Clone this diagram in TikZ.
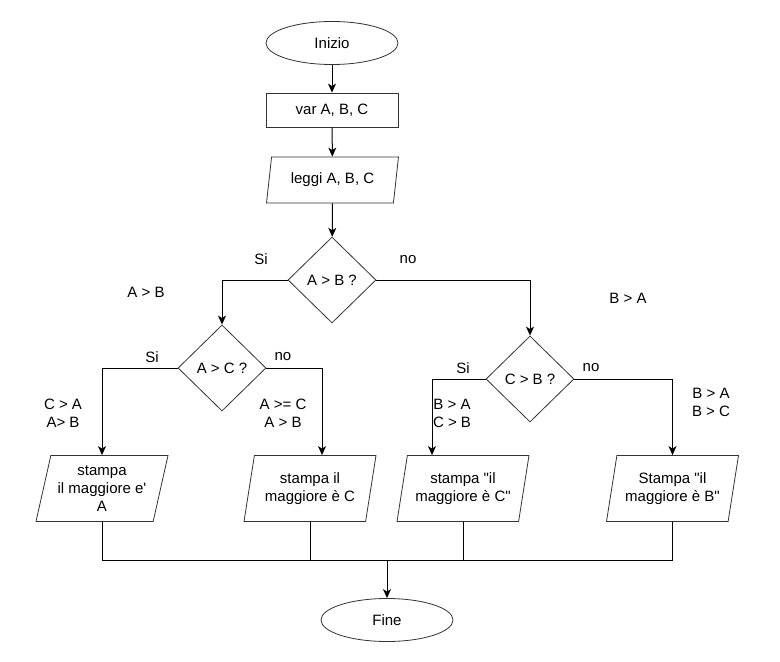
\documentclass[tikz,border=0pt]{standalone}
\usepackage{fontspec}
\newfontfamily\flowfont{Liberation Sans}
\usetikzlibrary{arrows.meta,shapes.geometric}
\definecolor{edge}{HTML}{333333}
\tikzset{
  term/.style={draw=edge,line width=.8pt,ellipse,minimum width=132pt,minimum height=43pt,inner sep=0pt},
  proc/.style={draw=edge,line width=.8pt,rectangle,minimum width=132pt,minimum height=34pt,inner sep=0pt},
  io/.style={draw=edge,line width=.8pt,trapezium,trapezium left angle=72,trapezium right angle=108,
    trapezium stretches body,minimum width=132pt,minimum height=66pt,inner sep=0pt,align=center},
  dec/.style={draw=edge,line width=.8pt,diamond,minimum width=88pt,minimum height=86pt,inner sep=0pt},
  lbl/.style={align=center,inner sep=0pt},
  arr/.style={draw=black,line width=1pt,-{Stealth[length=9pt,width=8pt,inset=2.5pt]}},
  wire/.style={draw=black,line width=1pt}
}
\begin{document}
\begin{tikzpicture}[x=1pt,y=-1pt,font=\flowfont\fontsize{15}{18}\selectfont]
  \useasboundingbox (0,0) rectangle (780,662);
  % main column
  \node[term] (inizio) at (332,43) {Inizio};
  \node[proc] (var) at (332,110) {var A, B, C};
  \node[io,minimum height=46pt,trapezium left angle=70,trapezium right angle=110] (leggi) at (332.5,180) {leggi A, B, C};
  \node[dec] (ab) at (332,280) {A > B ?};
  \node[dec] (ac) at (222,368) {A > C ?};
  \node[dec] (cb) at (530,379) {C > B ?};
  % outputs
  \node[io] (outA) at (102,488.5) {stampa\\il maggiore e'\\A};
  \node[io] (outC1) at (310,488.5) {stampa il\\maggiore è C};
  \node[io] (outC2) at (463,488.5) {stampa "il\\maggiore è C"};
  \node[io] (outB) at (672.5,488.5) {Stampa "il\\maggiore è B"};
  \node[term] (fine) at (387,620) {Fine};
  % labels
  \node[lbl] (siAB) at (261,259) {Si};
  \node[lbl] (noAB) at (408,260) {no};
  \node[lbl] (condAB) at (146,292) {A > B};
  \node[lbl] (condBA) at (628,298) {B > A};
  \node[lbl] (siAC) at (152,357) {Si};
  \node[lbl] (noAC) at (283,357) {no};
  \node[lbl] (condA) at (63,413) {C > A\\A> B};
  \node[lbl] (condC1) at (283,413) {A >= C\\A > B};
  \node[lbl] (siCB) at (463,368) {Si};
  \node[lbl] (noCB) at (591,368) {no};
  \node[lbl] (condC2) at (452,413) {B > A\\C > B};
  \node[lbl] (condB) at (711,402) {B > A\\B > C};
  % connectors
  \draw[arr] (inizio) -- (var);
  \draw[arr] (var) -- (leggi);
  \draw[arr] (leggi) -- (ab);
  \draw[arr] (ab.west) -| (ac.north);
  \draw[arr] (ab.east) -| (cb.north);
  \draw[arr] (ac.west) -| (outA.north);
  \draw[arr] (ac.east) -| ([xshift=12pt]outC1.north);
  \draw[arr] (cb.west) -| ([xshift=-31pt]outC2.north);
  \draw[arr] (cb.east) -| (outB.north);
  \coordinate (join) at (387,560);
  \draw[wire] (outA.south) |- (join);
  \draw[wire] (outB.south) |- (join);
  \draw[wire] (outC1.south) -- (outC1.south |- join);
  \draw[wire] (outC2.south) -- (outC2.south |- join);
  \draw[arr] (join) -- (fine);
\end{tikzpicture}
\end{document}
